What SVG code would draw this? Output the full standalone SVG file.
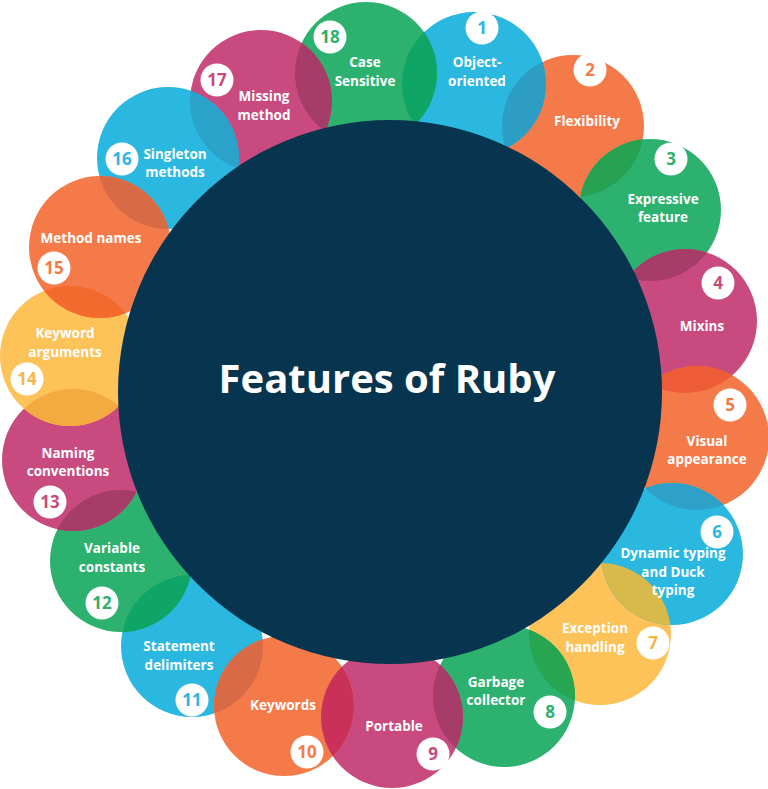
<svg xmlns="http://www.w3.org/2000/svg" width="768" height="789" viewBox="0 0 768 789">
<style>
.blue{fill:#2ab7e0}.green{fill:#2db16f}.orange{fill:#f57a49}.magenta{fill:#c84a7e}.yellow{fill:#fdc258}
.tblue{fill:#2ab7e0}.tgreen{fill:#2db16f}.torange{fill:#f57a49}.tmagenta{fill:#c84a7e}.tyellow{fill:#f5b544}
.lbl{font-family:"Open Sans","Liberation Sans",sans-serif;font-weight:700;font-size:13.5px;fill:#ffffff;text-anchor:middle}
.num{font-family:"Open Sans","Liberation Sans",sans-serif;font-weight:700;font-size:17px;text-anchor:middle}
.badge{fill:#ffffff}
.title{font-family:"Open Sans","Liberation Sans",sans-serif;font-weight:700;font-size:40px;fill:#ffffff;text-anchor:middle}
</style>
<defs>
<clipPath id="c1"><circle cx="474" cy="84" r="72"/></clipPath>
<clipPath id="c2"><circle cx="573" cy="126" r="71"/></clipPath>
<clipPath id="c3"><circle cx="650" cy="210" r="71"/></clipPath>
<clipPath id="c4"><circle cx="685" cy="321" r="72"/></clipPath>
<clipPath id="c5"><circle cx="697" cy="438" r="72"/></clipPath>
<clipPath id="c6"><circle cx="672" cy="554" r="71"/></clipPath>
<clipPath id="c7"><circle cx="600" cy="634" r="71"/></clipPath>
<clipPath id="c8"><circle cx="504" cy="696" r="71"/></clipPath>
<clipPath id="c9"><circle cx="392" cy="717" r="71"/></clipPath>
<clipPath id="c11"><circle cx="192" cy="646" r="71"/></clipPath>
<clipPath id="c12"><circle cx="121" cy="561" r="71"/></clipPath>
<clipPath id="c13"><circle cx="73" cy="460" r="71"/></clipPath>
<clipPath id="c14"><circle cx="70" cy="356" r="70"/></clipPath>
<clipPath id="c16"><circle cx="168" cy="158" r="71"/></clipPath>
<clipPath id="c17"><circle cx="261" cy="101" r="71"/></clipPath>
<clipPath id="c18"><circle cx="366" cy="73" r="71"/></clipPath>
</defs>

<g id="node-2">
<circle class="orange" cx="573" cy="126" r="71"/>
<text class="lbl" x="587" y="126">Flexibility</text>
<circle class="badge" cx="590" cy="70" r="16.5"/><text class="num torange" x="590" y="76">2</text>
</g>
<g id="node-1">
<circle class="blue" cx="474" cy="84" r="72"/>
<circle fill="#2e9dc4" cx="474" cy="84" r="72" clip-path="url(#c2)"/>
<text class="lbl" x="477" y="67">Object-</text>
<text class="lbl" x="477" y="85.5">oriented</text>
<circle class="badge" cx="482" cy="28" r="16.5"/><text class="num tblue" x="482" y="34">1</text>
</g>
<g id="node-18">
<circle class="green" cx="366" cy="73" r="71"/>
<circle fill="#0fa564" cx="366" cy="73" r="71" clip-path="url(#c1)"/>
<text class="lbl" x="365" y="67">Case</text>
<text class="lbl" x="365" y="85.5">Sensitive</text>
<circle class="badge" cx="330" cy="37" r="16.5"/><text class="num tgreen" x="330" y="43">18</text>
</g>
<g id="node-17">
<circle class="magenta" cx="261" cy="101" r="71"/>
<circle fill="#a63d68" cx="261" cy="101" r="71" clip-path="url(#c18)"/>
<text class="lbl" x="264" y="101">Missing</text>
<text class="lbl" x="264" y="119.5">method</text>
<circle class="badge" cx="217" cy="80" r="16.5"/><text class="num tmagenta" x="217" y="86">17</text>
</g>
<g id="node-16">
<circle class="blue" cx="168" cy="158" r="71"/>
<circle fill="#2ba2c9" cx="168" cy="158" r="71" clip-path="url(#c17)"/>
<text class="lbl" x="175" y="158.5">Singleton</text>
<text class="lbl" x="175" y="177">methods</text>
<circle class="badge" cx="122" cy="159" r="16.5"/><text class="num tblue" x="122" y="165">16</text>
</g>
<g id="node-11">
<circle class="blue" cx="192" cy="646" r="71"/>
<text class="lbl" x="179" y="651">Statement</text>
<text class="lbl" x="179" y="669.5">delimiters</text>
<circle class="badge" cx="192" cy="700" r="16.5"/><text class="num tblue" x="192" y="706">11</text>
</g>
<g id="node-12">
<circle class="green" cx="121" cy="561" r="71"/>
<circle fill="#0ea566" cx="121" cy="561" r="71" clip-path="url(#c11)"/>
<text class="lbl" x="112" y="553">Variable</text>
<text class="lbl" x="112" y="571.5">constants</text>
<circle class="badge" cx="102" cy="603" r="16.5"/><text class="num tgreen" x="102" y="609">12</text>
</g>
<g id="node-13">
<circle class="magenta" cx="73" cy="460" r="71"/>
<circle fill="#a63d68" cx="73" cy="460" r="71" clip-path="url(#c12)"/>
<text class="lbl" x="68" y="457.5">Naming</text>
<text class="lbl" x="68" y="476">conventions</text>
<circle class="badge" cx="50" cy="502" r="16.5"/><text class="num tmagenta" x="50" y="508">13</text>
</g>
<g id="node-14">
<circle class="yellow" cx="70" cy="356" r="70"/>
<circle fill="#f3aa40" cx="70" cy="356" r="70" clip-path="url(#c13)"/>
<text class="lbl" x="65" y="338">Keyword</text>
<text class="lbl" x="65" y="356.5">arguments</text>
<circle class="badge" cx="27" cy="379" r="16.5"/><text class="num tyellow" x="27" y="385">14</text>
</g>
<g id="node-15">
<circle class="orange" cx="100" cy="247" r="71"/>
<circle fill="#d86a45" cx="100" cy="247" r="71" clip-path="url(#c16)"/>
<circle fill="#f26b2c" cx="100" cy="247" r="71" clip-path="url(#c14)"/>
<text class="lbl" x="91" y="243">Method names</text>
<circle class="badge" cx="54" cy="268" r="16.5"/><text class="num torange" x="54" y="274">15</text>
</g>
<g id="node-3">
<circle class="green" cx="650" cy="210" r="71"/>
<circle fill="#27a152" cx="650" cy="210" r="71" clip-path="url(#c2)"/>
<text class="lbl" x="663" y="203.5">Expressive</text>
<text class="lbl" x="663" y="222">feature</text>
<circle class="badge" cx="671" cy="159" r="16.5"/><text class="num tgreen" x="671" y="165">3</text>
</g>
<g id="node-4">
<circle class="magenta" cx="685" cy="321" r="72"/>
<circle fill="#a63d68" cx="685" cy="321" r="72" clip-path="url(#c3)"/>
<text class="lbl" x="702" y="331">Mixins</text>
<circle class="badge" cx="718" cy="283" r="16.5"/><text class="num tmagenta" x="718" y="289">4</text>
</g>
<g id="node-5">
<circle class="orange" cx="697" cy="438" r="72"/>
<circle fill="#ee5b37" cx="697" cy="438" r="72" clip-path="url(#c4)"/>
<text class="lbl" x="707" y="445.5">Visual</text>
<text class="lbl" x="707" y="464">appearance</text>
<circle class="badge" cx="730" cy="405" r="16.5"/><text class="num torange" x="730" y="411">5</text>
</g>
<g id="node-7">
<circle class="yellow" cx="600" cy="634" r="71"/>
<text class="lbl" x="595" y="633">Exception</text>
<text class="lbl" x="595" y="651.5">handling</text>
<circle class="badge" cx="653" cy="643" r="16.5"/><text class="num tyellow" x="653" y="649">7</text>
</g>
<g id="node-6">
<circle class="blue" cx="672" cy="554" r="71"/>
<circle fill="#2fa0c7" cx="672" cy="554" r="71" clip-path="url(#c5)"/>
<circle fill="#d8b94c" cx="672" cy="554" r="71" clip-path="url(#c7)"/>
<text class="lbl" x="673" y="558">Dynamic typing</text>
<text class="lbl" x="673" y="576.5">and Duck</text>
<text class="lbl" x="673" y="595">typing</text>
<circle class="badge" cx="717" cy="532" r="16.5"/><text class="num tblue" x="717" y="538">6</text>
</g>
<g id="node-8">
<circle class="green" cx="504" cy="696" r="71"/>
<circle fill="#27a550" cx="504" cy="696" r="71" clip-path="url(#c7)"/>
<text class="lbl" x="496" y="686.5">Garbage</text>
<text class="lbl" x="496" y="705">collector</text>
<circle class="badge" cx="550" cy="712" r="16.5"/><text class="num tgreen" x="550" y="718">8</text>
</g>
<g id="node-9">
<circle class="magenta" cx="392" cy="717" r="71"/>
<circle fill="#a63d68" cx="392" cy="717" r="71" clip-path="url(#c8)"/>
<text class="lbl" x="394" y="731">Portable</text>
<circle class="badge" cx="433" cy="754" r="16.5"/><text class="num tmagenta" x="433" y="760">9</text>
</g>
<g id="node-10">
<circle class="orange" cx="284" cy="706" r="70"/>
<circle fill="#c9305a" cx="284" cy="706" r="70" clip-path="url(#c9)"/>
<circle fill="#d86a45" cx="284" cy="706" r="70" clip-path="url(#c11)"/>
<text class="lbl" x="283" y="710">Keywords</text>
<circle class="badge" cx="307" cy="752" r="16.5"/><text class="num torange" x="307" y="758">10</text>
</g>

<g id="center">
<circle fill="#07354f" cx="390" cy="392" r="272"/>
<text class="title" x="387" y="393">Features of Ruby</text>
</g>
</svg>
